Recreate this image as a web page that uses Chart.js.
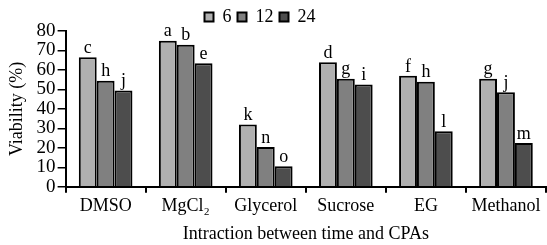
<!DOCTYPE html>
<html>
<head>
<meta charset="utf-8">
<script src="https://cdn.jsdelivr.net/npm/chart.js@4"></script>
<style>
  body { margin: 0; background: #fff; }
  #wrap { width: 547px; height: 245px; }
</style>
</head>
<body>
<div id="wrap"><canvas id="barchart"></canvas></div>
<script>
const categories = ['DMSO', 'MgCl\u2082', 'Glycerol', 'Sucrose', 'EG', 'Methanol']
const hours = ['6', '12', '24']
const h6 = [66.5, 75, 32, 64, 57, 55.5]
const h12 = [54.5, 73, 20.5, 55.5, 54, 48.5]
const h24 = [49.5, 63.5, 10.5, 52.5, 28.5, 22.5]
const letters6 = ['c', 'a', 'k', 'd', 'f', 'g']
const letters12 = ['h', 'b', 'n', 'g', 'h', 'j']
const letters24 = ['j', 'e', 'o', 'i', 'l', 'm']
const yTicks = [0, 10, 20, 30, 40, 50, 60, 70, 80]

const serif = "'Liberation Serif', 'Times New Roman', serif"

const letterPlugin = {
    id: 'letters',
    afterLayout(chart) {
        // legend sits a bit left of centre and lower in the original
        const lg = chart.legend
        lg.left -= 16; lg.right -= 16
        lg.top += 5; lg.bottom += 5
    },
    afterDatasetsDraw(chart) {
        const c = chart.ctx
        const sets = [letters6, letters12, letters24]
        c.save()
        c.font = '18px ' + serif
        c.fillStyle = '#000'
        c.textAlign = 'center'
        c.textBaseline = 'bottom'
        chart.data.datasets.forEach((ds, i) => {
            chart.getDatasetMeta(i).data.forEach((bar, j) => {
                c.fillText(sets[i][j], bar.x, bar.y)
            })
        })
        c.restore()
    }
}

const ctx = document.getElementById('barchart')
const myChart = new Chart(ctx, {
    type: 'bar',
    data: {
        labels: categories,
        datasets: [
            { label: hours[0], data: h6, backgroundColor: '#b0b0b0' },
            { label: hours[1], data: h12, backgroundColor: '#808080' },
            { label: hours[2], data: h24, backgroundColor: '#4d4d4d' }
        ].map(d => Object.assign(d, {
            borderColor: '#000',
            borderWidth: 2,
            categoryPercentage: 0.67,
            barPercentage: 1
        }))
    },
    options: {
        responsive: true,
        maintainAspectRatio: false,
        animation: false,
        layout: { padding: { top: -3, right: 1, left: 6, bottom: 0 } },
        plugins: {
            tooltip: { enabled: false },
            legend: {
                position: 'top',
                labels: {
                    boxWidth: 9,
                    boxHeight: 9,
                    padding: 6,
                    color: '#000',
                    font: { family: serif, size: 18 }
                }
            }
        },
        scales: {
            x: {
                grid: { display: true, drawOnChartArea: false, drawTicks: true, tickLength: 6, color: '#000', lineWidth: 2 },
                border: { color: '#000', width: 2 },
                ticks: { color: '#000', font: { family: serif, size: 18 }, padding: 3, maxRotation: 0, autoSkip: false },
                title: { display: true, text: 'Intraction between time and CPAs', color: '#000', font: { family: serif, size: 18 }, padding: { top: 3, bottom: 0 } }
            },
            y: {
                min: 0,
                max: 80,
                afterBuildTicks: axis => { axis.ticks = yTicks.map(v => ({ value: v })) },
                grid: { display: true, drawOnChartArea: false, drawTicks: true, tickLength: 8, color: '#000', lineWidth: 1.5 },
                border: { color: '#000', width: 2 },
                ticks: { color: '#000', font: { family: serif, size: 19, lineHeight: 1 }, padding: 2, autoSkip: false },
                title: { display: true, text: 'Viability (%)', color: '#000', font: { family: serif, size: 18 }, padding: { top: 0, bottom: 7 } }
            }
        }
    },
    plugins: [letterPlugin]
});
</script>
</body>
</html>
